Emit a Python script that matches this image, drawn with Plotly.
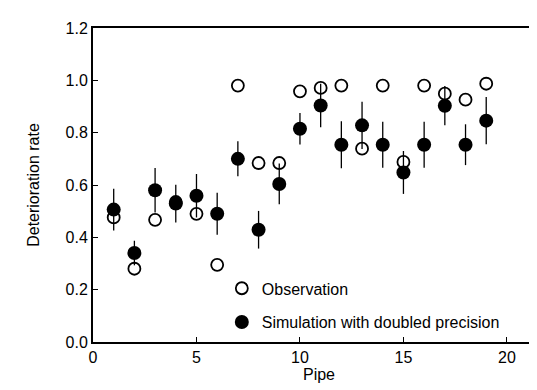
import plotly.graph_objects as go

pipes = list(range(1, 20))
observation = [0.476, 0.280, 0.467, 0.535, 0.490, 0.295, 0.980, 0.684, 0.684, 0.958,
               0.971, 0.980, 0.739, 0.980, 0.688, 0.980, 0.949, 0.926, 0.987]
simulation = [0.506, 0.340, 0.580, 0.529, 0.559, 0.490, 0.700, 0.429, 0.604, 0.815,
              0.904, 0.754, 0.828, 0.754, 0.648, 0.754, 0.903, 0.754, 0.846]
sim_error = [0.080, 0.047, 0.085, 0.072, 0.083, 0.080, 0.067, 0.072, 0.078, 0.060,
             0.083, 0.090, 0.090, 0.088, 0.082, 0.088, 0.075, 0.078, 0.090]

x_ticks = [0, 5, 10, 15, 20]
y_ticks = [0.0, 0.2, 0.4, 0.6, 0.8, 1.0, 1.2]

FONT = "Liberation Sans, Arial, sans-serif"

fig = go.Figure()
fig.add_trace(go.Scatter(
    x=pipes, y=observation, mode="markers", name="Observation",
    legendgroup="obs",
    marker=dict(symbol="circle-open", size=12, color="black", line=dict(width=1.8, color="black")),
))
fig.add_trace(go.Scatter(
    x=pipes, y=simulation, mode="markers", name="Simulation with doubled precision",
    legendgroup="sim",
    marker=dict(symbol="circle", size=14, color="black"),
    error_y=dict(type="data", array=sim_error, visible=True, color="black", thickness=1.3, width=0),
))

fig.update_layout(
    width=537, height=390,
    margin=dict(l=85, r=0, t=20, b=56),
    paper_bgcolor="white", plot_bgcolor="white",
    font=dict(family=FONT, size=16, color="black"),
    showlegend=True,
    legend=dict(x=0.285, y=0.225, xanchor="left", yanchor="top",
                bgcolor="rgba(0,0,0,0)", traceorder="grouped", tracegroupgap=10,
                font=dict(family=FONT, size=16, color="black"), itemsizing="trace"),
    xaxis=dict(range=[0, 21.84], tickvals=x_ticks, ticktext=[str(v) for v in x_ticks],
               showline=True, linecolor="black", linewidth=2, mirror=True,
               ticks="inside", ticklen=5, tickwidth=1, tickcolor="black",
               showgrid=False, zeroline=False,
               title=dict(text="Pipe", standoff=4, font=dict(size=16))),
    yaxis=dict(range=[0, 1.2], tickvals=y_ticks, ticktext=[f"{v:.1f}" for v in y_ticks],
               showline=True, linecolor="black", linewidth=2, mirror=False,
               ticks="inside", ticklen=5, tickwidth=1, tickcolor="black",
               showgrid=False, zeroline=False,
               title=dict(text="Deterioration rate", standoff=22, font=dict(size=16))),
)

fig.write_html("out.html")
